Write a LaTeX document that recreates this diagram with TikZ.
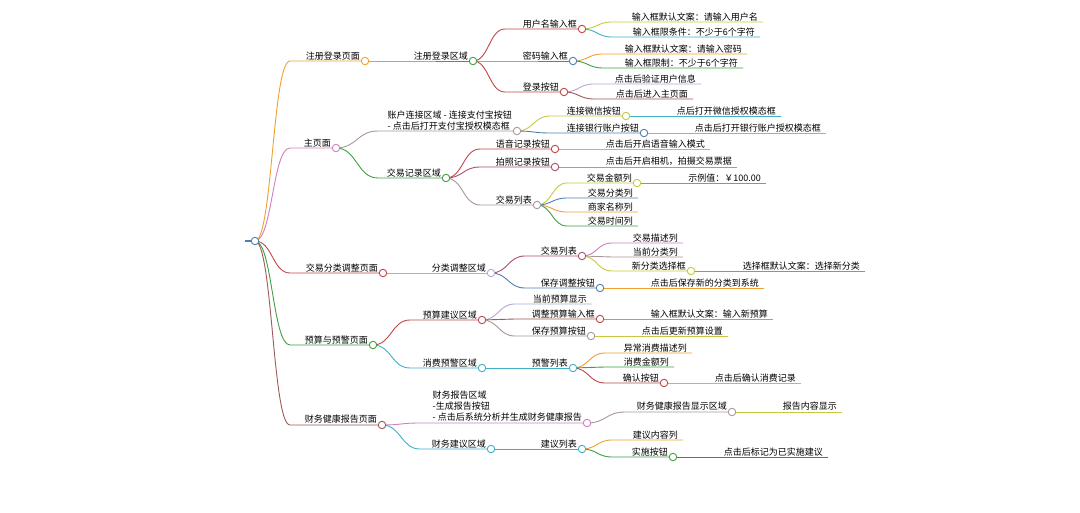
\documentclass[tikz,border=0pt]{standalone}
\usepackage{fontspec}
\setmainfont{Noto Sans CJK SC}
\usetikzlibrary{calc}
\pgfdeclarelayer{fg}\pgfsetlayers{main,fg}
\definecolor{cor}{HTML}{F0A030}
\definecolor{cpk}{HTML}{D080C0}
\definecolor{crd}{HTML}{C04848}
\definecolor{cgr}{HTML}{40A040}
\definecolor{cbr}{HTML}{A05858}
\definecolor{cte}{HTML}{40B0C8}
\definecolor{cyg}{HTML}{C8C840}
\definecolor{clv}{HTML}{B8A8D8}
\definecolor{cgy}{HTML}{A89898}
\definecolor{cbl}{HTML}{5080B0}
\definecolor{cma}{HTML}{A85070}
\tikzset{lk/.style={line width=0.9pt},
 txt/.style={font=\fontsize{9}{11}\selectfont,inner sep=1pt,anchor=south east,align=left,text=black},
 dotn/.style={circle,line width=0.9pt,fill=white,inner sep=0pt,minimum size=7.5pt}}
\newcommand\br[7]{%
 \draw[#6,lk] let \p1=(#1), \n1={(#3pt-\x1)/2} in (#1) .. controls +(\n1,0) and +(-\n1,0) .. (#3,#4) -- (#5,#4);
 \coordinate (#2) at (#5,#4);
 \node[txt] (#2t) at ($(#5,#4)+(-4,0)$) {#7};}
\newcommand\dt[2]{\begin{pgfonlayer}{fg}\node[dotn,draw=#2] (#1d) at (#1) {};\end{pgfonlayer}}
\begin{document}
\begin{tikzpicture}[x=1pt,y=-1pt]
\useasboundingbox (0,0) rectangle (1080,513);
\fill[white] (0,0) rectangle (1080,513);
\coordinate (root) at (255,241);
\coordinate (rl) at (245,241);
\draw[cbl,line width=1.6pt] (rl) -- (root);
\dt{root}{cbl}
% level 1
\br{root}{a}{290}{61}{365}{cor}{注册登录页面}\dt{a}{cor}
\br{root}{b}{290}{148}{336}{cpk}{主页面}\dt{b}{cpk}
\br{root}{c}{290}{273}{383}{crd}{交易分类调整页面}\dt{c}{crd}
\br{root}{d}{290}{345}{373}{cgr}{预算与预警页面}\dt{d}{cgr}
\br{root}{e}{290}{425}{382}{cbr}{财务健康报告页面}\dt{e}{cbr}
% a
\br{a}{a1}{400}{61}{473}{cgr}{注册登录区域}\dt{a1}{cgr}
\br{a1}{a11}{505}{29}{582}{crd}{用户名输入框}\dt{a11}{crd}
\br{a1}{a12}{505}{61}{573}{cbl}{密码输入框}\dt{a12}{cbl}
\br{a1}{a13}{505}{92}{564}{crd}{登录按钮}\dt{a13}{crd}
\br{a11}{a111}{612}{22}{763}{cyg}{输入框默认文案：请输入用户名}
\br{a11}{a112}{612}{37}{760}{cte}{输入框限条件：不少于6个字符}
\br{a12}{a121}{603}{54}{747}{cor}{输入框默认文案：请输入密码}
\br{a12}{a122}{603}{68}{743}{cgr}{输入框限制：不少于6个字符}
\br{a13}{a131}{594}{84}{701}{clv}{点击后验证用户信息}
\br{a13}{a132}{594}{99}{693}{cbr}{点击后进入主页面}
% b
\br{b}{b1}{378}{131}{517}{cgy}{账户连接区域 - 连接支付宝按钮\\- 点击后打开支付宝授权模态框}\dt{b1}{cgy}
\br{b}{b2}{378}{178}{446}{cgr}{交易记录区域}\dt{b2}{cgr}
\br{b1}{b11}{550}{116}{626}{cyg}{连接微信按钮}\dt{b11}{cyg}
\br{b1}{b12}{550}{133}{644}{cbl}{连接银行账户按钮}\dt{b12}{cbl}
\br{b11}{b111}{626}{116}{781}{cte}{点后打开微信授权模态框}
\br{b12}{b121}{644}{133}{826}{cor}{点击后打开银行账户授权模态框}
\br{b2}{b21}{480}{149}{555}{crd}{语音记录按钮}\dt{b21}{crd}
\br{b2}{b22}{480}{167}{555}{cma}{拍照记录按钮}\dt{b22}{cma}
\br{b2}{b23}{480}{205}{537}{cgy}{交易列表}\dt{b23}{cgy}
\br{b21}{b211}{555}{149}{710}{clv}{点击后开启语音输入模式}
\br{b22}{b221}{555}{167}{737}{cpk}{点击后开启相机，拍摄交易票据}
\br{b23}{b231}{567}{183}{637}{cyg}{交易金额列}\dt{b231}{cyg}
\br{b23}{b232}{567}{198}{638}{cbl}{交易分类列}
\br{b23}{b233}{567}{212}{638}{cor}{商家名称列}
\br{b23}{b234}{567}{226}{638}{cgr}{交易时间列}
\br{b231}{b2311}{637}{183}{766}{cte}{示例值：￥100.00}
% c
\br{c}{c1}{383}{273}{491}{clv}{分类调整区域}\dt{c1}{clv}
\br{c1}{c11}{525}{256}{582}{cma}{交易列表}\dt{c11}{cma}
\br{c1}{c12}{525}{288}{600}{cbl}{保存调整按钮}\dt{c12}{cbl}
\br{c11}{c111}{612}{243}{683}{cpk}{交易描述列}
\br{c11}{c112}{612}{257}{683}{cgy}{当前分类列}
\br{c11}{c113}{612}{271}{691}{cyg}{新分类选择框}\dt{c113}{cyg}
\br{c113}{c1131}{691}{271}{865}{cte}{选择框默认文案：选择新分类}
\br{c12}{c121}{600}{288}{764}{cor}{点击后保存新的分类到系统}
% d
\br{d}{d1}{410}{320}{482}{crd}{预算建议区域}\dt{d1}{crd}
\br{d}{d2}{410}{368}{482}{cte}{消费预警区域}\dt{d2}{cte}
\br{d1}{d11}{515}{304}{592}{clv}{当前预算显示}
\br{d1}{d12}{515}{319}{600}{cbr}{调整预算输入框}\dt{d12}{crd}
\br{d1}{d13}{515}{336}{591}{cgy}{保存预算按钮}\dt{d13}{cgy}
\br{d12}{d121}{600}{319}{773}{cpk}{输入框默认文案：输入新预算}
\br{d13}{d131}{591}{336}{728}{cyg}{点击后更新预算设置}
\br{d2}{d21}{482}{368}{573}{cte}{预警列表}\dt{d21}{cte}
\br{d21}{d211}{605}{353}{692}{cor}{异常消费描述列}
\br{d21}{d212}{605}{367}{674}{cgr}{消费金额列}
\br{d21}{d213}{605}{383}{664}{crd}{确认按钮}\dt{d213}{crd}
\br{d213}{d2131}{664}{383}{801}{clv}{点击后确认消费记录}
% e
\br{e}{e1}{420}{423}{587}{cpk}{财务报告区域\\-生成报告按钮\\ - 点击后系统分析并生成财务健康报告}\dt{e1}{cpk}
\br{e}{e2}{420}{449}{491}{cte}{财务建议区域}\dt{e2}{cte}
\br{e1}{e11}{625}{412}{732}{cgy}{财务健康报告显示区域}\dt{e11}{cgy}
\br{e11}{e111}{732}{412}{842}{cyg}{报告内容显示}
\br{e2}{e21}{491}{449}{582}{cte}{建议列表}\dt{e21}{cte}
\br{e21}{e211}{612}{440}{683}{cor}{建议内容列}
\br{e21}{e212}{612}{457}{673}{cgr}{实施按钮}\dt{e212}{cgr}
\br{e212}{e2121}{673}{457}{828}{crd}{点击后标记为已实施建议}
\end{tikzpicture}
\end{document}
